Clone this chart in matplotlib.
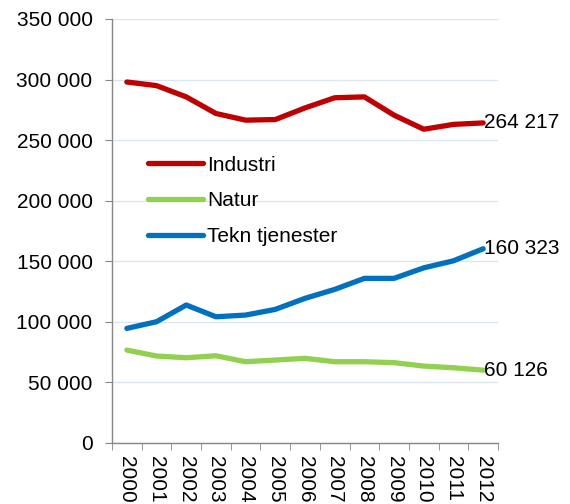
import matplotlib
matplotlib.use("Agg")
import matplotlib.pyplot as plt
from matplotlib.ticker import FuncFormatter, FixedLocator

plt.rcParams['font.family'] = ['Liberation Sans', 'DejaVu Sans']

years = [str(y) for y in range(2000, 2013)]
industri = [298000, 295000, 285700, 272000, 266500, 267000, 276600, 285000, 285700, 270600, 259000, 263000, 264217]
natur = [76700, 71800, 70400, 72000, 67100, 68500, 69900, 67100, 67100, 66300, 63500, 62100, 60126]
tekn = [94600, 100100, 113900, 104200, 105600, 110300, 119400, 126800, 135900, 135900, 144600, 150400, 160323]
series_names = ["Industri", "Natur", "Tekn tjenester"]
colors = ["#c00000", "#92d050", "#0070c0"]

FS = 15

fig = plt.figure(figsize=(5.7, 5.04), dpi=100)
ax = fig.add_axes([112/570, 61/504, 386/570, 424/504])

x = list(range(len(years)))
for vals, name, c in zip([industri, natur, tekn], series_names, colors):
    ax.plot(x, vals, color=c, lw=3.8, label=name, solid_capstyle='round', solid_joinstyle='round', zorder=3)
    ax.annotate(f"{vals[-1]:,}".replace(",", " "), xy=(x[-1], vals[-1]), xytext=(0.5, 0),
                textcoords='offset points', ha='left', va='center', fontsize=FS, color='black',
                annotation_clip=False)

ax.set_xlim(-0.5, len(years) - 0.5)
ax.set_ylim(0, 350000)
ax.set_yticks(range(0, 350001, 50000))
ax.yaxis.set_major_formatter(FuncFormatter(lambda v, p: f"{int(v):,}".replace(",", " ")))
ax.set_xticks(x)
ax.set_xticklabels(years, rotation=-90, fontsize=FS, va='top')
ax.xaxis.set_minor_locator(FixedLocator([i - 0.5 for i in range(len(years) + 1)]))
ax.tick_params(axis='x', which='major', length=0, pad=9)
ax.tick_params(axis='x', which='minor', length=5, color='#868686', direction='out')
ax.tick_params(axis='y', length=5, color='#868686', labelsize=FS, pad=9)
ax.grid(axis='y', color='#dce6f2', lw=1, zorder=0)
ax.set_axisbelow(True)
for s in ['top', 'right']:
    ax.spines[s].set_visible(False)
for s in ['left', 'bottom']:
    ax.spines[s].set_color('#868686')
    ax.spines[s].set_linewidth(1)

leg = ax.legend(loc='upper left', bbox_to_anchor=(36/386, 0.678), frameon=False, fontsize=FS,
                handlelength=2.65, handletextpad=0.2, labelspacing=0.8, borderpad=0, borderaxespad=0)

fig.savefig("out.png", dpi=100)
